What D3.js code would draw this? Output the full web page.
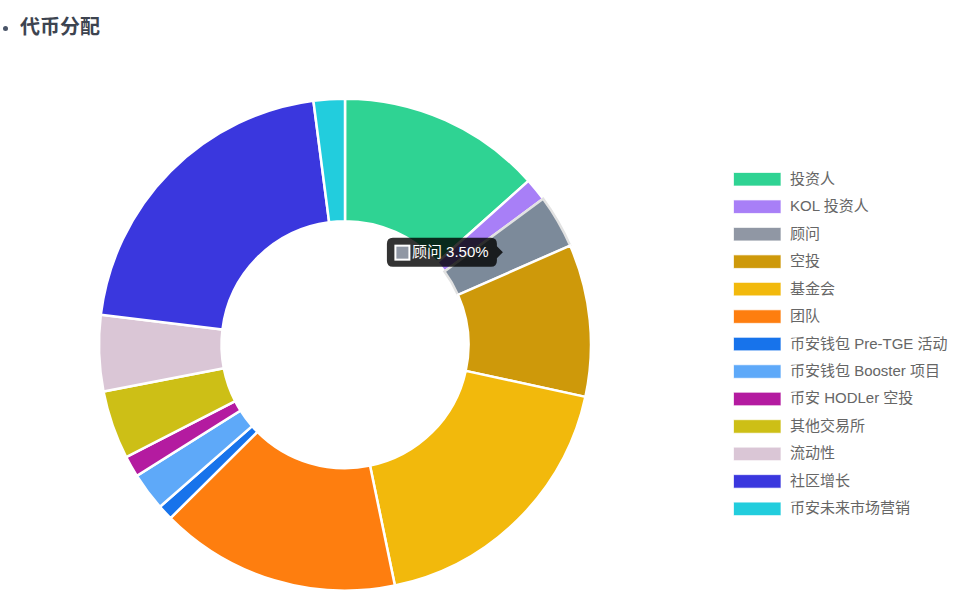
<!DOCTYPE html>
<html><head><meta charset="utf-8">
<script src="https://cdn.jsdelivr.net/npm/d3@7/dist/d3.min.js"></script>
<style>
html,body{margin:0;padding:0;background:#fff;overflow:hidden}
svg{display:block}
text{font-family:"Liberation Sans","Noto Sans CJK SC",sans-serif}
</style></head><body>
<svg id="chart" width="966" height="595"></svg>
<script>
const categories=["投资人","KOL 投资人","顾问","空投","基金会","团队","币安钱包 Pre-TGE 活动","币安钱包 Booster 项目","币安 HODLer 空投","其他交易所","流动性","社区增长","币安未来市场营销"];
const values=[13.4,1.5,3.5,10,18.35,15.8,1,2.5,1.4,4.5,5,21,2.05];
const colors=["#2FD393","#A87FF7","#9097A4","#CE990A","#F2B90C","#FE7E0F","#1773EB","#5EA9F9","#B41BA0","#CDBF16","#DAC6D6","#3A37DE","#22CDDD"];
const activeIndex=2, activeColor="#7C8A9A", tooltipValue="3.50%";
const title="代币分配";

const svg=d3.select("#chart");
svg.append("circle").attr("cx",5.5).attr("cy",28.5).attr("r",2.5).attr("fill","#4a5568");
svg.append("text").attr("x",20).attr("y",33.5).attr("font-size",20).attr("font-weight",700).attr("fill","#3d4450").text(title);

const cx=345,cy=344.7,outer=246,inner=123.5;
const pie=d3.pie().sort(null).value(d=>d)(values);
const arc=d3.arc().innerRadius(inner).outerRadius(outer);
const g=svg.append("g").attr("transform",`translate(${cx},${cy})`);
g.selectAll("path").data(pie).join("path")
 .attr("d",arc)
 .attr("fill",(d,i)=>i===activeIndex?activeColor:colors[i])
 .attr("stroke",(d,i)=>i===activeIndex?"#e2e2e2":"#fff")
 .attr("stroke-width",2.5).attr("stroke-linejoin","miter");

const legendY=d3.scalePoint().domain(d3.range(categories.length)).range([179,508.6]);
const lg=svg.append("g").selectAll("g").data(categories).join("g").attr("transform",(d,i)=>`translate(733,${legendY(i)})`);
lg.append("rect").attr("x",.5).attr("y",-6.5).attr("width",47.5).attr("height",13.5)
 .attr("fill",(d,i)=>colors[i]).attr("stroke","#fff").attr("stroke-opacity",.7).attr("stroke-width",1);
lg.append("text").attr("x",57).attr("y",4.7).attr("font-size",15).attr("fill","#666").text(d=>d);

const [tx,ty]=arc.centroid(pie[activeIndex]);
const tipX=cx+tx-2, tipY=cy+ty;
const tip=svg.append("g").attr("transform",`translate(${tipX},${tipY})`);
const w=110,h=29,a=6;
tip.append("path").attr("fill","rgba(0,0,0,.8)")
 .attr("d",`M${-a-w+6},${-h/2}H${-a-6}Q${-a},${-h/2} ${-a},${-h/2+6}V-6L0,0L${-a},6V${h/2-6}Q${-a},${h/2} ${-a-6},${h/2}H${-a-w+6}Q${-a-w},${h/2} ${-a-w},${h/2-6}V${-h/2+6}Q${-a-w},${-h/2} ${-a-w+6},${-h/2}Z`);
tip.append("rect").attr("x",-a-w+8.5).attr("y",-6.5).attr("width",14).attr("height",14).attr("fill",colors[activeIndex]).attr("stroke","#fff").attr("stroke-width",2);
tip.append("text").attr("x",-a-w+25).attr("y",5).attr("font-size",15).attr("fill","#fff").text(categories[activeIndex]+" "+tooltipValue);
</script>
</body></html>
